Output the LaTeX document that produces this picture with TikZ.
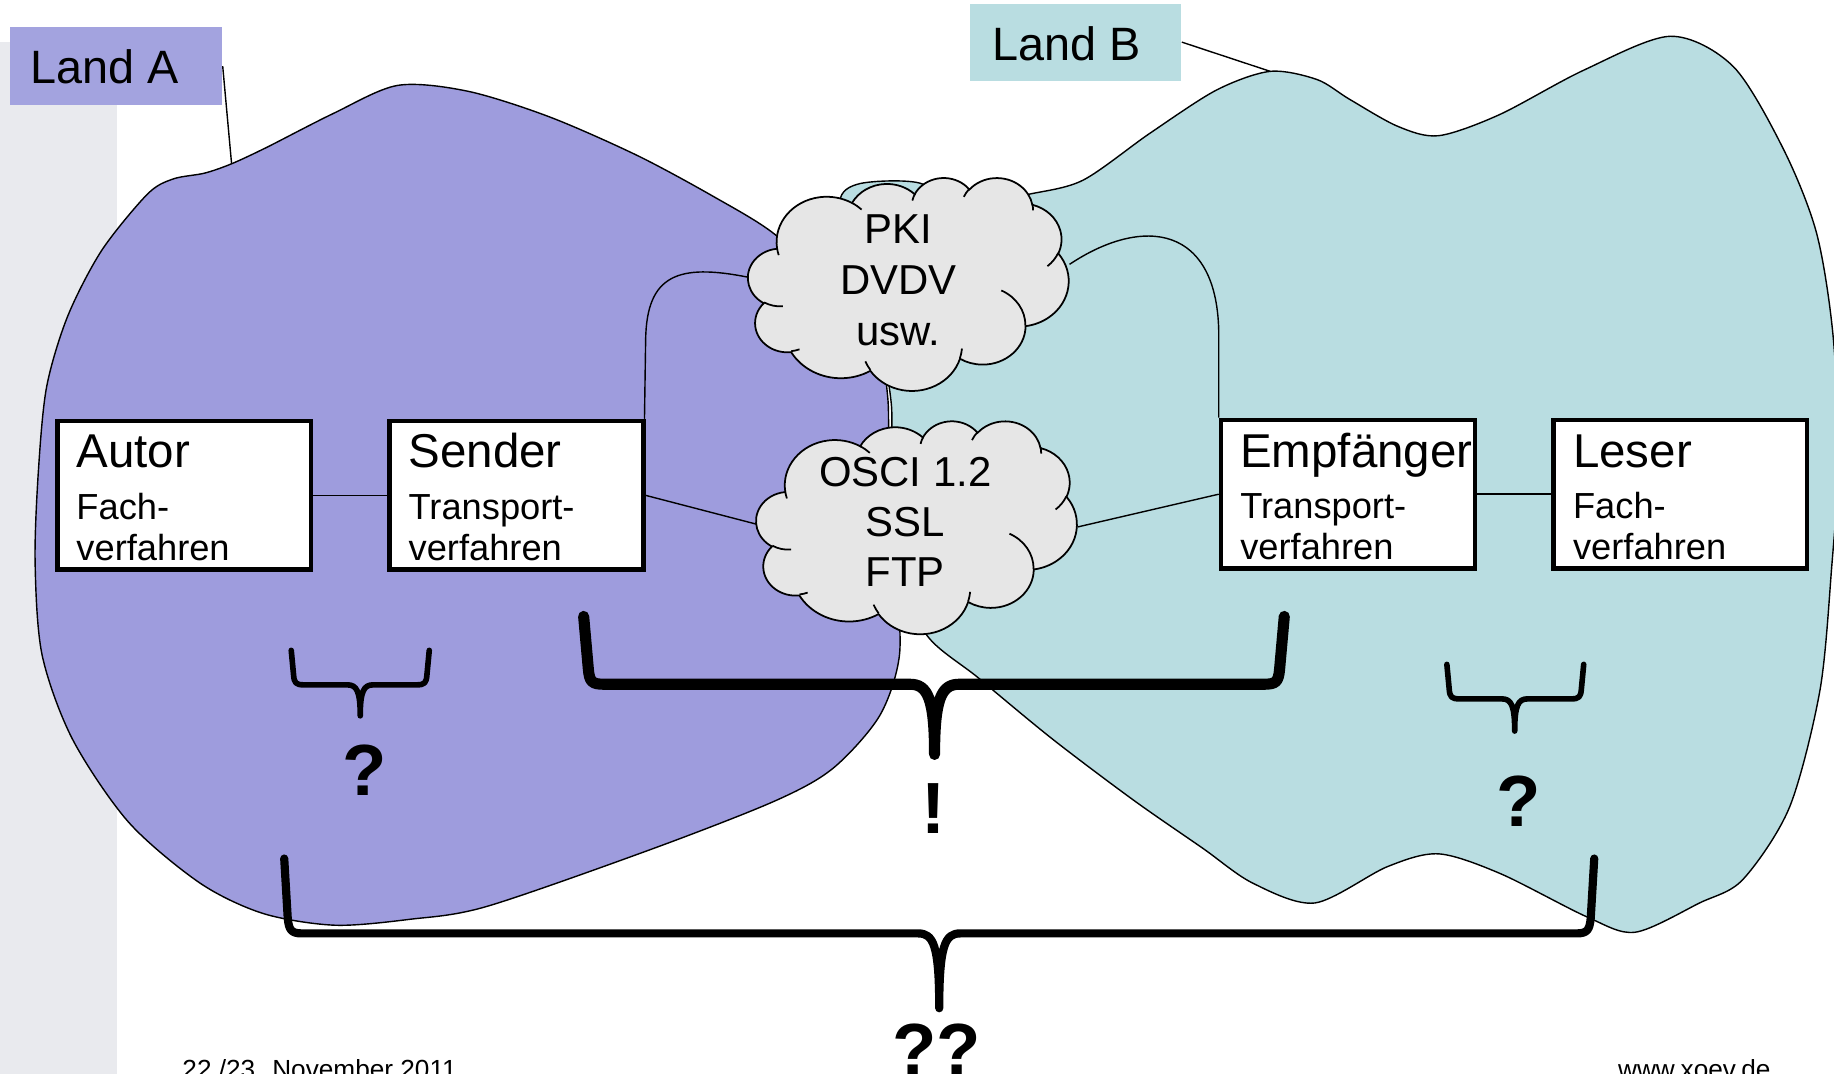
\documentclass[tikz,border=0pt]{standalone}
\usepackage{fontspec}
\setmainfont{Liberation Sans}
\definecolor{blobA}{RGB}{158,156,221}
\definecolor{tagA}{RGB}{163,163,223}
\definecolor{blobB}{RGB}{185,221,225}
\definecolor{cloudfill}{RGB}{230,230,230}
\definecolor{band}{RGB}{233,234,238}

\tikzset{
  % elliptical arc given by radii, visual start angle and sweep (degrees)
  ooarc/.code n args={4}{%
    \pgfmathsetmacro\ooS{atan2((#1)*sin(#3),(#2)*cos(#3))}%
    \pgfmathsetmacro\ooE{atan2((#1)*sin((#3)+(#4)),(#2)*cos((#3)+(#4)))}%
    \pgfmathsetmacro\ooE{((#4)>0 && \ooE<\ooS) ? \ooE+360 : (((#4)<0 && \ooE>\ooS) ? \ooE-360 : \ooE)}%
    \edef\ootmp{\noexpand\pgfkeysalso{x radius=#1,y radius=#2,start angle=\ooS,end angle=\ooE}}%
    \ootmp},
  outl/.style={line width=0.6pt},
  conn/.style={line width=0.6pt},
  cloudline/.style={line width=0.75pt},
  procbox/.style={draw, fill=white, line width=2pt, minimum width=108.5pt,
    minimum height=63.5pt, inner sep=0pt},
  tagbox/.style={inner sep=0pt, minimum width=90.75pt, minimum height=33.5pt},
  txt/.style={inner sep=0pt, anchor=base west},
  tagtxt/.style={txt, font=\fontsize{20}{24}\selectfont},
  titletxt/.style={txt, font=\fontsize{20.3}{24}\selectfont},
  subtxt/.style={txt, font=\fontsize{15.5}{18}\selectfont},
  cloudtxt/.style={inner sep=0pt, anchor=base, font=\fontsize{17.9}{21}\selectfont},
  marktxt/.style={inner sep=0pt, anchor=base, font=\fontsize{31}{36}\selectfont\bfseries},
  foottxt/.style={txt, font=\fontsize{11.2}{13}\selectfont},
  curly/.style={line width=#1, line cap=round, line join=round},
}

% cloud outline in a 432 x 432 box placed on the node #1
\newcommand\ppcloud[1]{%
\begin{scope}[shift={(#1.north west)},x=0.31713pt,y=-0.21065pt]
  \filldraw[cloudline,fill=cloudfill] (39,143.7)
    arc[ooarc={67.53}{91.90}{-190.48748}{123.78053}]
    arc[ooarc={53.33}{72.67}{-144.10238}{89.94523}]
    arc[ooarc={43.65}{59.45}{-145.80792}{99.72302}]
    arc[ooarc={48.57}{65.95}{-130.98607}{117.24173}]
    arc[ooarc={53.33}{72.73}{-78.70888}{109.02692}]
    arc[ooarc={67.75}{92.20}{-46.26725}{130.26900}]
    arc[ooarc={57.85}{78.67}{0.62502}{114.03333}]
    arc[ooarc={67.52}{92.15}{22.45160}{115.17255}]
    arc[ooarc={77.20}{105.43}{66.24263}{75.71102}]
    arc[ooarc={43.60}{59.18}{-274.94208}{146.73557}]
    arc[ooarc={43.45}{59.45}{-246.82850}{152.51885}]
    -- cycle;
  \draw[cloudline]
    (46.93,261.77) arc[ooarc={43.45}{59.45}{86.742}{26.4295}]
    (69.28,348.99) arc[ooarc={43.60}{59.18}{73.61047}{11.44747}]
    (164.78,390.90) arc[ooarc={67.52}{92.15}{137.62415}{14.0811}]
    (288.27,347.51) arc[ooarc={67.52}{92.15}{6.45327}{15.99835}]
    (341.29,229.54) arc[ooarc={57.85}{78.67}{-70.29235}{70.91737}]
    (417.98,153.54) arc[ooarc={53.33}{72.73}{30.31803}{27.7515}]
    (383.24,54.26) arc[ooarc={48.57}{65.95}{-13.74433}{14.8589}]
    (290.78,39.52) arc[ooarc={48.57}{65.95}{-149.18145}{18.19537}]
    (221.41,47.20) arc[ooarc={43.65}{59.45}{-163.49427}{17.68635}]
    (140.00,51.92) arc[ooarc={67.53}{91.90}{-66.70695}{12.31935}]
    (41.27,157.89) arc[ooarc={67.53}{91.90}{157.65435}{11.85817}];
\end{scope}}

\begin{document}
\begin{tikzpicture}[x=0.5pt,y=-0.5pt]
\useasboundingbox (0,0) rectangle (1568,918);
\fill[band] (0,36) rectangle (100,918);

% country labels
\node[tagbox, fill=tagA] (landA) at (99.25,56.5) {};
\node[tagtxt] (landAtxt) at (25.6,71.2) {Land A};
\node[tagbox, fill=blobB, minimum width=90.5pt, minimum height=33pt] (landB) at (919.5,36) {};
\node[tagtxt] (landBtxt) at (847.8,51.3) {Land B};
\coordinate (aTip) at (198,140);
\coordinate (bTip) at (1086,61);
\draw[conn] (landA.east) -- (aTip);
\draw[conn] (landB.east) -- (bTip);

% country A
\filldraw[outl, fill=blobA] plot[smooth cycle] coordinates {
 (87,214) (126,166) (148,153) (175,148) (198,140) (228,126) (285,97) (340,73)
 (400,78) (470,100) (545,133) (610,168) (662,200) (712,248) (750,298) (759,340)
 (760,400) (766,490) (769,560) (752,612) (712,657) (662,685) (557,726) (416,775)
 (350,786) (286,791) (225,781) (171,755) (110,703) (62,632) (36,560) (30,480)
 (33,400) (40,330) (58,270)};

% country B
\filldraw[outl, fill=blobB] plot[smooth cycle] coordinates {
 (718,172) (735,157) (784,156) (830,175) (880,166) (926,154) (983,114) (1040,77)
 (1086,61) (1126,68) (1154,85) (1195,108) (1230,116) (1282,98) (1354,60) (1428,31)
 (1482,57) (1525,128) (1553,199) (1567,285) (1572,390) (1566,485) (1556,590)
 (1530,690) (1490,752) (1453,772) (1398,797) (1357,784) (1283,747) (1230,730)
 (1186,741) (1124,772) (1071,755) (1028,725) (969,684) (900,632) (837,580)
 (791,541) (775,480) (763,400) (762,345) (752,290) (728,220)};

% components
\node[procbox] (autor) at (157.5,423.5) {};
\node[procbox] (sender) at (441.5,423.5) {};
\node[procbox] (empf) at (1152.5,422.5) {};
\node[procbox] (leser) at (1436.5,422.5) {};

% network areas
\node[inner sep=0pt, minimum width=137pt, minimum height=91pt] (pki) at (777,243) {};
\node[inner sep=0pt, minimum width=137pt, minimum height=90.5pt] (osci) at (784,450.5) {};

% connections
\draw[conn] (autor.east) -- (sender.west);
\draw[conn] (empf.east) -- (leser.west);
\draw[conn] (sender.east) -- ([yshift=1.2pt]osci.west);
\draw[conn] (osci.east) -- (empf.west);
\draw[conn] ([xshift=-0.5pt]sender.north east) -- ++(1,-68)
  .. controls +(1,-55) and +(-60,-12) .. ([yshift=3pt]pki.west);
\draw[conn] ([yshift=8.5pt]pki.east) .. controls +(63,-42) and +(0,-95) .. ([yshift=35pt]empf.north west)
  -- (empf.north west);

% redraw boxes above the lines
\node[procbox] at (autor) {};
\node[procbox] at (sender) {};
\node[procbox] at (empf) {};
\node[procbox] at (leser) {};

\ppcloud{pki}
\ppcloud{osci}

% box texts
\node[titletxt] (t1) at (65,400) {Autor};
\node[subtxt] (t1a) at (65,444) {Fach-};
\node[subtxt] (t1b) at (65,479) {verfahren};
\node[titletxt] (t2) at (349,400) {Sender};
\node[subtxt] (t2a) at (349,444) {Transport-};
\node[subtxt] (t2b) at (349,479) {verfahren};
\node[titletxt] (t3) at (1060,400) {Empfänger};
\node[subtxt] (t3a) at (1060,443) {Transport-};
\node[subtxt] (t3b) at (1060,478) {verfahren};
\node[titletxt] (t4) at (1344.5,400) {Leser};
\node[subtxt] (t4a) at (1344.5,443) {Fach-};
\node[subtxt] (t4b) at (1344.5,478) {verfahren};

% cloud texts
\node[cloudtxt] (c1) at (768,208) {PKI};
\node[cloudtxt] (c2) at (768,252) {DVDV};
\node[cloudtxt] (c3) at (768,295) {usw.};
\node[cloudtxt] (c4) at (774,415.5) {OSCI 1.2};
\node[cloudtxt] (c5) at (774,459) {SSL};
\node[cloudtxt] (c6) at (774,501.5) {FTP};

% braces
\draw[curly=2.4pt] (249,556) -- (251,577) .. controls (251.5,584) and (253,585.5) .. (260,585.5)
  -- (297,585.5) .. controls (305,585.5) and (308,591) .. (308,612)
  (367,556) -- (365,577) .. controls (364.5,584) and (363,585.5) .. (356,585.5)
  -- (319,585.5) .. controls (311,585.5) and (308,591) .. (308,612);
\draw[curly=4.75pt] (499,527) -- (503,572) .. controls (504,583) and (506,585) .. (517,585)
  -- (778,585) .. controls (793,585) and (799,597) .. (799,645)
  (1098,527) -- (1094,572) .. controls (1093,583) and (1091,585) .. (1080,585)
  -- (820,585) .. controls (805,585) and (799,597) .. (799,645);
\draw[curly=2.4pt] (1237,568) -- (1239,589) .. controls (1239.5,596) and (1241,597.5) .. (1248,597.5)
  -- (1284,597.5) .. controls (1292,597.5) and (1295,603) .. (1295,625)
  (1354,568) -- (1352,589) .. controls (1351.5,596) and (1350,597.5) .. (1343,597.5)
  -- (1306,597.5) .. controls (1298,597.5) and (1295,603) .. (1295,625);
\draw[curly=3.5pt] (243,734) -- (246,785) .. controls (247,795) and (249,798) .. (258,798)
  -- (785,798) .. controls (798,798) and (803,808) .. (803,862)
  (1363,734) -- (1360,785) .. controls (1359,795) and (1357,798) .. (1348,798)
  -- (821,798) .. controls (808,798) and (803,808) .. (803,862);

% remarks
\node[marktxt] (q1) at (312,680) {?};
\node[marktxt] (q2) at (798,713) {!};
\node[marktxt] (q3) at (1298,707) {?};
\node[marktxt] (q4) at (801,919) {??};

% footer
\node[foottxt] (date) at (155.6,922) {22./23. November 2011};
\node[foottxt] (web) at (1383,922) {www.xoev.de};
\end{tikzpicture}
\end{document}
